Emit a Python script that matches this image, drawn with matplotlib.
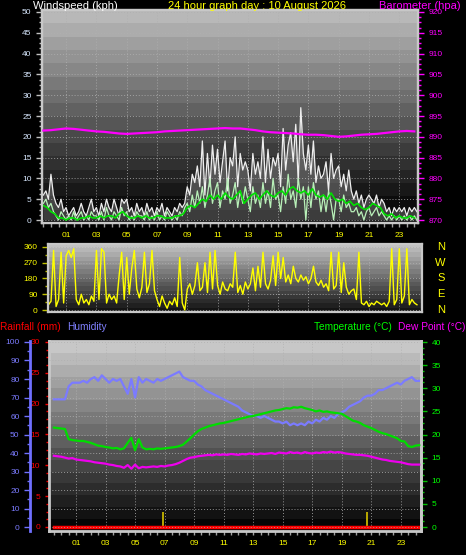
import numpy as np
import matplotlib
matplotlib.use('Agg')
import matplotlib.pyplot as plt
from matplotlib.ticker import MultipleLocator
import matplotlib.transforms as mtransforms

plt.rcParams['font.family'] = ['Liberation Sans', 'DejaVu Sans']

# ---------------- data ----------------
hour_labels = ['%02d' % h for h in range(1, 24, 2)]
hour_ticks = list(range(1, 24, 2))

# wind gust (kph), every 10 min from -0.5 h
gust = [6, 7, 5,
        11, 6, 4, 3, 5, 2,
        3, 1, 2, 3, 1, 2,
        4, 2, 1, 3, 5, 2,
        3, 1, 4, 2, 5, 3,
        2, 5, 3, 1, 5, 4,
        5, 2, 3, 1, 4, 2,
        3, 1, 4, 2, 3, 1,
        3, 2, 4, 1, 3, 2,
        1, 3, 2, 4, 3, 4,
        8, 6, 11, 9, 13, 8,
        19, 6, 16, 8, 18, 11,
        17, 9, 14, 19, 7, 15,
        13, 20, 8, 16, 12, 14,
        12, 7, 16, 11, 14, 10,
        20, 9, 17, 10, 15, 13,
        16, 8, 22, 12, 18, 21,
        14, 23, 9, 27, 16, 12,
        18, 11, 19, 9, 13, 10,
        11, 14, 7, 16, 10, 12,
        13, 8, 11, 7, 12, 7,
        5, 7, 4, 6, 3, 5,
        6, 5, 4, 6, 3, 5,
        4, 2, 3, 1, 3, 2,
        3, 2, 3, 1, 3, 2,
        3, 2]

# wind speed (kph), every 10 min from -0.5 h
wind = [4, 5, 3,
        4, 2, 1, 0, 2, 1,
        0, 1, 0, 2, 0, 1,
        2, 0, 1, 0, 2, 1,
        1, 0, 2, 0, 3, 1,
        0, 2, 1, 0, 3, 1,
        2, 0, 1, 0, 2, 1,
        1, 0, 2, 0, 1, 0,
        2, 0, 1, 0, 2, 1,
        0, 1, 0, 2, 1, 3,
        4, 2, 6, 3, 7, 4,
        8, 3, 6, 10, 4, 7,
        9, 3, 7, 5, 10, 4,
        6, 9, 3, 7, 4, 8,
        5, 2, 8, 4, 6, 3,
        9, 4, 7, 3, 10, 5,
        6, 2, 8, 4, 11, 5,
        7, 3, 10, 5, 8, 0,
        8, 3, 9, 5, 7, 2,
        6, 2, 7, 4, 0, 5,
        5, 2, 6, 3, 4, 2,
        2, 3, 1, 2, 0, 2,
        3, 1, 2, 3, 1, 2,
        1, 0, 1, 0, 1, 0,
        1, 0, 1, 0, 1, 0,
        1, 0]

# average wind speed (kph), every 15 min from -0.5 h
wind_avg = [3.5, 3,
            2, 1.5, 0.5, 0.5,
            0, 0.5, 0.5, 0,
            0.5, 0.5, 1, 0.5,
            0.5, 1, 0.5, 1,
            1, 0.5, 1.5, 2,
            1, 0.5, 0.5, 1,
            0.5, 1, 0.5, 0.5,
            1, 1, 0.5, 0.5,
            0.5, 1, 1, 1.5,
            3, 3.5, 3, 4,
            5, 4.5, 6, 5,
            6, 5, 6.5, 5.5,
            5, 6, 7, 4,
            5, 6, 6.5, 5,
            6, 7, 6, 5.5,
            6.5, 7, 6, 7.5,
            8, 7, 6.5, 7,
            6, 7.5, 6, 5.5,
            6, 5, 6.5, 5,
            4.5, 5, 4, 4.5,
            3.5, 4, 3, 2.5,
            3, 4, 3.5, 3,
            1.5, 1, 1.5, 0.5,
            1, 0.5, 0.5, 1,
            0.5]

# barometer (hPa), every 30 min from -0.5 h
baro = [891.5, 891.6, 891.8, 892.0, 891.9, 891.7, 891.5, 891.3, 891.2, 891.0,
        890.8, 890.7, 890.8, 890.9, 891.0, 891.1, 891.3, 891.4, 891.5, 891.6,
        891.7, 891.8, 891.9, 892.0, 892.1, 892.0, 892.0, 891.8, 891.6, 891.3,
        891.1, 891.0, 890.9, 890.8, 890.6, 890.5, 890.5, 890.4, 890.2, 890.0,
        890.1, 890.3, 890.5, 890.6, 890.7, 890.9, 891.1, 891.3, 891.4, 891.3]

# wind direction (deg), every 10 min from -0.5 h
direction = [40, 330, 30,
             50, 340, 20, 60, 330, 40,
             310, 340, 300, 350, 60, 30,
             90, 40, 60, 30, 80, 50,
             340, 60, 350, 330, 40, 90,
             60, 80, 40, 200, 330, 60,
             300, 90, 240, 340, 120, 70,
             130, 330, 100, 150, 340, 110,
             60, 20, 80, 40, 10, 50,
             30, 70, 20, 300, 40, 0,
             120, 150, 90, 140, 270, 110,
             130, 270, 100, 330, 120, 340,
             140, 90, 160, 120, 110, 150,
             130, 330, 100, 140, 90, 160,
             120, 150, 240, 110, 250, 130,
             330, 150, 120, 170, 310, 140,
             330, 180, 300, 160, 200, 150,
             250, 180, 160, 200, 170, 190,
             150, 180, 250, 160, 140, 170,
             130, 150, 110, 330, 120, 140,
             330, 100, 270, 130, 90, 110,
             120, 60, 330, 40, 30, 50,
             20, 40, 30, 50, 40, 30,
             40, 20, 50, 350, 30, 60,
             350, 40, 80, 350, 30, 60,
             40, 30]

# humidity (%), every 15 min from -0.5 h
humidity = [69, 69,
            69, 69, 76, 78,
            78, 78, 79, 78,
            80, 81, 79, 82,
            80, 78, 80, 79,
            80, 76, 72, 80,
            70, 81, 78, 80,
            79, 78, 80, 79,
            80, 81, 82, 83,
            84, 81, 80, 79,
            79, 77, 76, 74,
            73, 72, 71, 70,
            69, 68, 67, 66,
            65, 63, 62, 61,
            60, 60, 59, 60,
            59, 58, 57, 57,
            56, 57, 55, 56,
            55, 56, 55, 57,
            56, 58, 57, 59,
            58, 60, 59, 61,
            62, 63, 65, 66,
            67, 68, 70, 71,
            71, 72, 74, 74,
            75, 76, 77, 78,
            77, 79, 80, 81,
            79, 79]

# temperature (°C), every 15 min from -0.5 h
temperature = [21.5, 21.4,
               21.3, 21.2, 19.0, 18.8,
               18.7, 18.6, 18.6, 18.4,
               18.2, 17.9, 17.6, 17.5,
               17.3, 17.2, 17.0, 17.1,
               16.8, 17.0, 18.2, 19.3,
               16.6, 19.0, 17.2, 16.8,
               16.9, 16.8, 17.0, 16.9,
               17.0, 17.1, 17.2, 17.3,
               17.5, 17.8, 18.5, 19.2,
               20.0, 20.7, 21.2, 21.5,
               21.8, 22.0, 22.2, 22.4,
               22.5, 22.7, 22.9, 23.1,
               23.3, 23.5, 23.7, 23.9,
               24.0, 24.2, 24.4, 24.6,
               24.8, 25.0, 25.2, 25.3,
               25.5, 25.7, 25.6, 25.9,
               25.8, 26.0, 25.7, 25.5,
               25.3, 25.0, 25.2, 24.9,
               25.0, 24.8, 24.7, 24.6,
               24.5, 24.0, 23.5, 23.0,
               22.8, 22.5, 22.0, 21.7,
               21.4, 21.0, 20.6, 20.3,
               20.1, 19.8, 19.5, 19.2,
               18.6, 18.5, 17.5, 17.3,
               17.6, 17.7]

# dew point (°C), every 15 min from -0.5 h
dewpoint = [15.4, 15.3,
            15.2, 15.0, 14.8, 14.9,
            14.6, 14.5, 14.4, 14.3,
            14.2, 14.0, 13.9, 13.8,
            13.7, 13.5, 13.4, 13.2,
            13.1, 12.8, 13.4, 12.6,
            13.5, 12.7, 13.0, 12.9,
            13.0, 13.1, 13.0, 13.2,
            13.1, 13.3, 13.4, 13.6,
            13.9, 14.3, 14.7, 15.0,
            15.1, 15.3, 15.4, 15.5,
            15.6, 15.5, 15.7, 15.6,
            15.7, 15.6, 15.8, 15.7,
            15.6, 15.8, 15.7, 15.9,
            15.8, 15.7, 15.9, 15.8,
            15.9, 16.0, 15.8, 16.1,
            16.0, 15.9, 16.2, 16.0,
            16.1, 15.9, 16.2, 16.0,
            15.9, 16.1, 16.0, 16.2,
            16.1, 16.3, 16.1, 16.2,
            16.1, 15.9, 15.8, 15.7,
            15.6, 15.6, 15.5, 15.4,
            15.2, 15.0, 14.8, 14.6,
            14.5, 14.3, 14.2, 14.1,
            14.0, 13.8, 13.6, 13.5,
            13.5, 13.5]

# rainfall (mm)
rain_time = [-0.5, 24.25]
rain = [0.0, 0.0]
rain_rate_time = [6.9, 20.7]
rain_rate = [2.5, 2.5]

# ---------------- helpers ----------------
t10 = lambda n: -0.5 + np.arange(n) / 6.0
t15 = lambda n: -0.5 + np.arange(n) / 4.0
t30 = lambda n: -0.5 + np.arange(n) / 2.0

W, H = 466, 555
fig = plt.figure(figsize=(W / 100, H / 100), dpi=100, facecolor='black')


def fax(l, t, r, b):
    return fig.add_axes([l / W, 1 - b / H, (r - l) / W, (b - t) / H])


def background(ax, top, bottom, steps=16):
    g = np.linspace(top, bottom, steps).reshape(-1, 1)
    ax.imshow(g, extent=[0, 1, 0, 1], transform=ax.transAxes, aspect='auto',
              cmap='gray', vmin=0, vmax=1, zorder=0, interpolation='nearest')


def frame(ax, color='#c8c8c8', lw=1.6):
    for s in ax.spines.values():
        s.set_color(color)
        s.set_linewidth(lw)


grid_kw = dict(color='#b0b0b0', linestyle=(0, (1, 2)), linewidth=0.7, alpha=0.8)
FS_TICK = 6
FS_TITLE = 8
FS_TITLE2 = 7.3

# ---------------- top panel: wind + barometer ----------------
ax1 = fax(42, 10, 418, 223)
ax1.set_facecolor('black')
background(ax1, 0.72, 0.0)
ax1.set_axisbelow(True)
tg = t10(len(gust))
ax1.fill_between(tg, 0, gust, color='#c8c8c8', alpha=0.3, lw=0, zorder=1)
ax1.plot(tg, gust, color='#eeeeee', lw=0.9, zorder=2)
ax1.plot(t10(len(wind)), wind, color='#b8f0b8', lw=0.9, zorder=3)
ax1.plot(t15(len(wind_avg)), wind_avg, color='#00e000', lw=1.2, zorder=4)
ax1.set_xlim(-0.59, 24.24)
ax1.set_ylim(-0.72, 50.48)
ax1.set_yticks(range(0, 51, 5))
ax1.yaxis.set_minor_locator(MultipleLocator(1.25))
ax1.set_xticks(hour_ticks)
ax1.set_xticklabels(hour_labels)
ax1.xaxis.set_minor_locator(MultipleLocator(0.5))
ax1.tick_params(axis='y', which='both', colors='#c0c0c0', labelcolor='#d8e8ff', labelsize=FS_TICK, length=4, width=1)
ax1.tick_params(axis='y', which='minor', length=2)
ax1.tick_params(axis='x', which='both', colors='#a0a0a0', labelcolor='#ffff00', labelsize=FS_TICK, length=3, width=1)
ax1.grid(True, which='major', **grid_kw)
frame(ax1)

ax1b = ax1.twinx()
ax1b.plot(t30(len(baro)), baro, color='#ff00ff', lw=1.6, zorder=5)
ax1b.set_ylim(869.28, 920.48)
ax1b.set_yticks(range(870, 921, 5))
ax1b.yaxis.set_minor_locator(MultipleLocator(1.25))
ax1b.tick_params(axis='y', which='both', colors='#ff00ff', labelcolor='#ff00ff', labelsize=FS_TICK, length=4, width=1)
ax1b.tick_params(axis='y', which='minor', length=2)
frame(ax1b)

# ---------------- middle panel: wind direction ----------------
ax2 = fax(48, 244, 422, 312)
ax2.set_facecolor('black')
background(ax2, 0.76, 0.08)
ax2.set_axisbelow(True)
ax2.plot(t10(len(direction)), direction, color='#ffff00', lw=1.0, zorder=2)
ax2.set_xlim(-0.2, 24.5)
ax2.set_ylim(-11.4, 377)
ax2.set_yticks([0, 90, 180, 270, 360])
ax2.yaxis.set_minor_locator(MultipleLocator(45))
ax2.set_xticks(hour_ticks)
ax2.tick_params(axis='x', length=0, labelbottom=False)
ax2.tick_params(axis='y', which='both', colors='#c0c000', labelcolor='#ffff00', labelsize=FS_TICK, length=4, width=1)
ax2.tick_params(axis='y', which='minor', length=2)
ax2.grid(True, which='major', **grid_kw)
frame(ax2)
trans = mtransforms.blended_transform_factory(ax2.transAxes, ax2.transData)
for lab, val in zip(['N', 'W', 'S', 'E', 'N'], [360, 270, 180, 90, 0]):
    ax2.text(1.05, val, lab, transform=trans, color='#ffff00', fontsize=FS_TITLE,
             ha='center', va='center')

# ---------------- bottom panel: rain, humidity, temperature ----------------
ax3 = fax(49, 341, 421, 531)
ax3.set_facecolor('black')
background(ax3, 0.78, 0.02)
ax3.set_axisbelow(True)
ax3.bar(rain_rate_time, rain_rate, width=0.12, color='#b4a400', zorder=2)
ax3.plot(rain_time, rain, color='#ff0000', lw=2.5, zorder=3)
ax3.set_xlim(-0.83, 24.37)
ax3.set_ylim(-0.65, 30.16)
ax3.set_yticks(range(0, 31, 5))
ax3.yaxis.set_minor_locator(MultipleLocator(1.25))
ax3.set_xticks(hour_ticks)
ax3.set_xticklabels(hour_labels)
ax3.xaxis.set_minor_locator(MultipleLocator(0.5))
ax3.tick_params(axis='y', which='both', colors='#ff0000', labelcolor='#ff0000', labelsize=FS_TICK, length=3, width=1)
ax3.tick_params(axis='y', which='minor', length=2)
ax3.tick_params(axis='x', which='both', colors='#a0a0a0', labelcolor='#ffff00', labelsize=FS_TICK, length=3, width=1)
ax3.grid(True, axis='x', which='major', **grid_kw)
frame(ax3, lw=2)

ax_h = ax3.twinx()
ax_h.yaxis.set_ticks_position('left')
ax_h.yaxis.set_label_position('left')
for k in ['right', 'top', 'bottom']:
    ax_h.spines[k].set_visible(False)
ax_h.spines['left'].set_visible(True)
ax_h.spines['left'].set_position(('axes', -0.051))
ax_h.spines['left'].set_color('#7070ff')
ax_h.spines['left'].set_linewidth(2)
ax_h.plot(t15(len(humidity)), humidity, color='#7b7bff', lw=1.6, zorder=3)
ax_h.set_ylim(-2.16, 100.54)
ax_h.set_yticks(range(0, 101, 10))
ax_h.yaxis.set_minor_locator(MultipleLocator(5))
ax_h.tick_params(axis='y', which='both', colors='#7070ff', labelcolor='#7b7bff', labelsize=FS_TICK, length=4, width=1)
ax_h.tick_params(axis='y', which='minor', length=2)
ax_h.grid(True, axis='y', which='major', **grid_kw)

ax_t = ax3.twinx()
for k in ['left', 'top', 'bottom']:
    ax_t.spines[k].set_visible(False)
ax_t.spines['right'].set_color('#c8c8c8')
ax_t.spines['right'].set_linewidth(2)
ax_t.plot(t15(len(temperature)), temperature, color='#00dd00', lw=1.6, zorder=3)
ax_t.plot(t15(len(dewpoint)), dewpoint, color='#ee00ee', lw=1.6, zorder=4)
ax_t.set_ylim(-0.86, 40.22)
ax_t.set_yticks(range(0, 41, 5))
ax_t.yaxis.set_minor_locator(MultipleLocator(1.25))
ax_t.tick_params(axis='y', which='both', colors='#00c000', labelcolor='#00ff00', labelsize=FS_TICK, length=4, width=1)
ax_t.tick_params(axis='y', which='minor', length=2)

# ---------------- titles ----------------
def ftext(x, y, s, color, ha='left', fs=FS_TITLE):
    fig.text(x / W, 1 - y / H, s, color=color, fontsize=fs, ha=ha, va='center')

ftext(33, 6, 'Windspeed (kph)', 'white')
ftext(257, 6, '24 hour graph day : 10 August 2026', '#ffff00', ha='center')
ftext(461, 6, 'Barometer (hpa)', '#ff00ff', ha='right')
ftext(0, 327, 'Rainfall (mm)', '#ff0000', fs=FS_TITLE2)
ftext(67, 327, 'Humidity', '#8080ff', fs=FS_TITLE2)
ftext(392, 327, 'Temperature (°C)', '#00ff00', ha='right', fs=FS_TITLE2)
ftext(465, 327, 'Dew Point (°C)', '#ff00ff', ha='right', fs=FS_TITLE2)

fig.savefig('out.png', dpi=100, facecolor='black')
